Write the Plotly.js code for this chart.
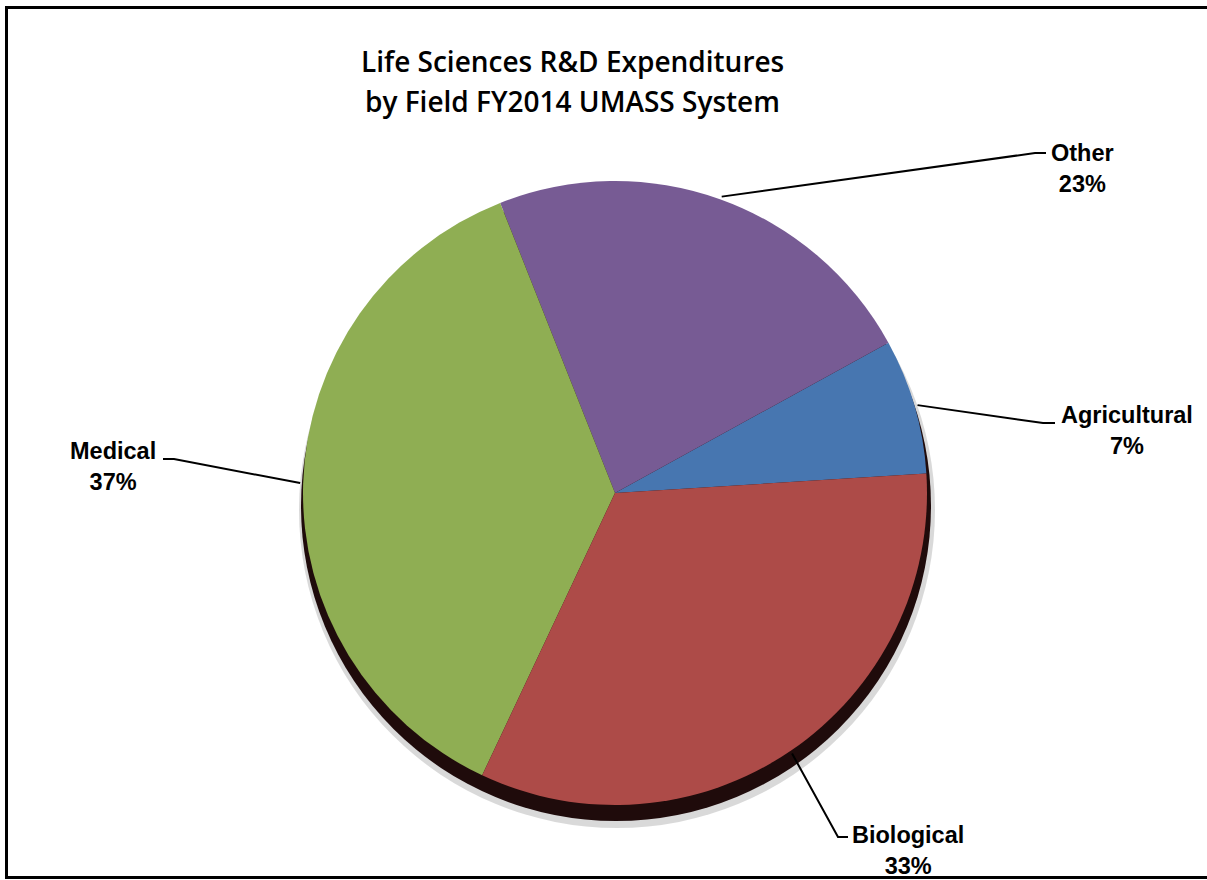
<!DOCTYPE html>
<html>
<head>
<meta charset="utf-8">
<script src="https://cdn.plot.ly/plotly-3.0.1.min.js"></script>
<style>html,body{margin:0;padding:0;background:#fff;}#chart{width:1207px;height:880px;}</style>
</head>
<body>
<div id="chart"></div>
<script>
// ---- data ----
const categories = ["Agricultural", "Other", "Medical", "Biological"];
const values = [7, 23, 37, 33];
const colors = ["#4776B0", "#775B94", "#8FAE53", "#AD4B48"];
const titleLines = ["Life Sciences R&D Expenditures", "by Field FY2014 UMASS System"];

// ---- layout constants (pixels) ----
const W = 1207, H = 880;
const cx = 615, cy = 493, R = 312;
const startDeg = 3.6; // start angle, degrees counterclockwise from 3 o'clock
// label text centres and leader elbows
const labelPos = [[1127, 430], [1082, 169], [113, 466], [908, 850]];
const elbowA = [[1043, 423], [1035, 153], [174, 459], [838, 837]];
const elbowB = [[1055, 423], [1046, 153], [163, 459], [848, 837]];

const px = x => x / W;
const py = y => 1 - y / H;
function domainFor(ccx, ccy, r) {
  return { x: [px(ccx - r), px(ccx + r)], y: [py(ccy + r), py(ccy - r)] };
}

const total = values.reduce((a, b) => a + b, 0);
// Plotly's counterclockwise pies place the first slice ending at the rotation angle
const rotation = 90 - startDeg - values[0] / total * 360;

const traces = [
  { type: "pie", values: [1], labels: ["s1"], sort: false, textinfo: "none", hoverinfo: "skip",
    marker: { colors: ["rgba(0,0,0,0.15)"] }, domain: domainFor(cx + 2, cy + 17, R + 6), showlegend: false },
  { type: "pie", values: [1], labels: ["s2"], sort: false, textinfo: "none", hoverinfo: "skip",
    marker: { colors: ["#1f0b0b"] }, domain: domainFor(cx + 1, cy + 13, R + 3), showlegend: false },
  { type: "pie", values: values, labels: categories, sort: false, direction: "counterclockwise",
    rotation: rotation, textinfo: "none", hoverinfo: "label+percent",
    marker: { colors: colors, line: { width: 0 } }, domain: domainFor(cx, cy, R), showlegend: false }
];

const annotations = [];
const shapes = [];
let cum = 0;
categories.forEach((c, i) => {
  const mid = (startDeg + (cum + values[i] / 2) / total * 360) * Math.PI / 180;
  cum += values[i];
  const ex = cx + (R + 3) * Math.cos(mid), ey = cy - (R + 3) * Math.sin(mid);
  shapes.push({ type: "path", xref: "paper", yref: "paper",
    path: `M ${px(ex)} ${py(ey)} L ${px(elbowA[i][0])} ${py(elbowA[i][1])} L ${px(elbowB[i][0])} ${py(elbowB[i][1])}`,
    line: { color: "#000", width: 2 } });
  const pct = Math.round(values[i] / total * 100);
  annotations.push({ xref: "paper", yref: "paper", x: px(labelPos[i][0]), y: py(labelPos[i][1]),
    xanchor: "center", yanchor: "middle", showarrow: false, align: "center",
    text: `<b>${c}</b><br><b>${pct}%</b>`,
    font: { family: "Liberation Sans, Arial, sans-serif", size: 23.5, color: "#000" } });
});

// title lines
[[titleLines[0], 61], [titleLines[1], 101]].forEach(([t, y]) => {
  annotations.push({ xref: "paper", yref: "paper", x: px(572), y: py(y), xanchor: "center", yanchor: "middle",
    showarrow: false, text: t, font: { family: "Open Sans, sans-serif", size: 28, weight: 600, color: "#000" } });
});

// frame
shapes.push({ type: "rect", xref: "paper", yref: "paper", x0: px(6.5), x1: px(1215), y0: py(877.5), y1: py(7.5),
  line: { color: "#000", width: 3 }, fillcolor: "rgba(0,0,0,0)" });

const layout = {
  width: W, height: H,
  margin: { l: 0, r: 0, t: 0, b: 0 },
  paper_bgcolor: "#fff",
  showlegend: false,
  annotations: annotations,
  shapes: shapes
};

Plotly.newPlot("chart", traces, layout, { displayModeBar: false, staticPlot: true });
</script>
</body>
</html>
